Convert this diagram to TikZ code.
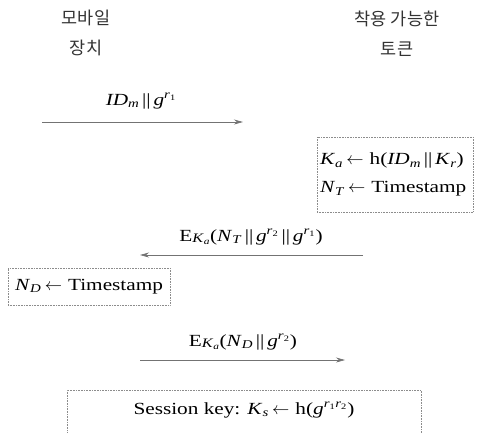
\documentclass[tikz,border=0pt]{standalone}
\usepackage{fontspec}
\setmainfont[FakeStretch=1.25]{Liberation Serif}
\newfontfamily\kofont{Noto Sans CJK KR}
\usetikzlibrary{arrows.meta}
\newcommand\iv[1]{\textit{#1}}
\newcommand\lo[1]{\textsubscript{#1}}
\newcommand\hi[1]{\textsuperscript{#1}}
\newcommand\cc{\,||\,}
\newcommand\la{\hspace{0.2em}$\leftarrow$\hspace{0.35em}}
\newcommand\EKa{E\raisebox{-0.15ex}{\fontsize{13}{13}\selectfont\iv{K}\lo{\iv{a}}}}
\begin{document}
\begin{tikzpicture}[x=1pt,y=-1pt,
  lbl/.style={font=\fontsize{17}{20}\selectfont, inner sep=0pt},
  ko/.style={font=\fontsize{17.5}{30}\kofont, align=center, text=black!80, inner sep=0pt},
  msg/.style={draw=black!55, line width=0.7pt, -{Stealth[length=9pt,width=5pt]}},
  box/.style={draw=black!45, densely dotted, line width=0.6pt, inner sep=0pt, font=\fontsize{17}{28}\selectfont}]
\useasboundingbox (0,0) rectangle (478,432);
\node[ko] (dev) at (86,33) {모바일\\장치};
\node[ko] (tok) at (397,34) {착용 가능한\\토큰};
% message 1
\coordinate (m1s) at (42,122);
\coordinate (m1e) at (243,122);
\draw[msg] (m1s) -- (m1e);
\node[lbl] (l1) at (141,101) {\iv{ID}\lo{\iv{m}}\cc\iv{g}\hi{\iv{r}\lo{1}}};
% box 1
\node[box, minimum width=156, minimum height=75, align=left, text width=150] (b1) at (395,174.5)
  {\iv{K}\lo{\iv{a}}\la h(\iv{ID}\lo{\iv{m}}\cc\iv{K}\lo{\iv{r}})\\
   \iv{N}\lo{\iv{T}}\la Timestamp};
% message 2
\coordinate (m2s) at (363,255);
\coordinate (m2e) at (140,255);
\draw[msg] (m2s) -- (m2e);
\node[lbl] (l2) at (251,237) {\EKa(\iv{N}\lo{\iv{T}}\cc\iv{g}\hi{\iv{r}\lo{2}}\cc\iv{g}\hi{\iv{r}\lo{1}})};
% box 2
\node[box, minimum width=162, minimum height=37] (b2) at (89,286.5)
  {\iv{N}\lo{\iv{D}}\la Timestamp};
% message 3
\coordinate (m3s) at (140,360);
\coordinate (m3e) at (345,360);
\draw[msg] (m3s) -- (m3e);
\node[lbl] (l3) at (243,342) {\EKa(\iv{N}\lo{\iv{D}}\cc\iv{g}\hi{\iv{r}\lo{2}})};
% box 3
\node[box, minimum width=354, minimum height=52] (b3) at (244,416) {};
\node[lbl] (t3) at (244,410) {Session key: \iv{K}\lo{\iv{s}}\la h(\iv{g}\hi{\iv{r}\lo{1}\iv{r}\lo{2}})};
\end{tikzpicture}
\end{document}
